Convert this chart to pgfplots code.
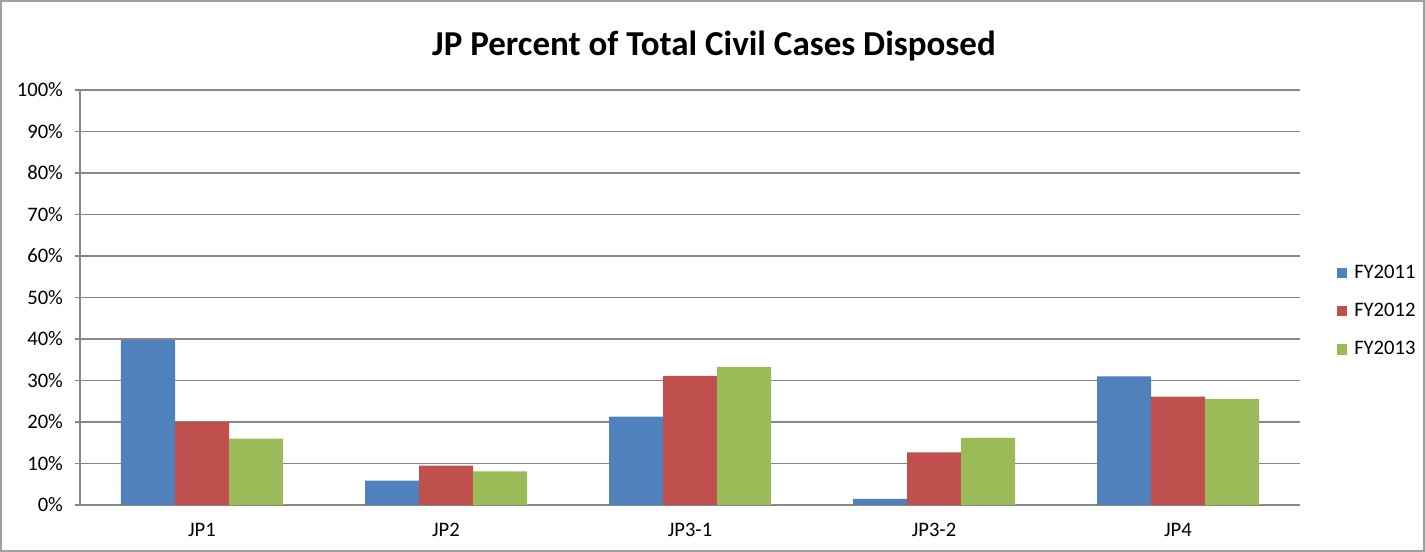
\documentclass[border=0pt]{standalone}
\usepackage{fontspec}
\setmainfont{Carlito}
\usepackage{pgfplots}
\pgfplotsset{compat=1.18}
\definecolor{fyblue}{HTML}{4F81BD}
\definecolor{fyred}{HTML}{C0504D}
\definecolor{fygreen}{HTML}{9BBB59}
\definecolor{gridgray}{HTML}{878787}
\begin{document}
\begin{tikzpicture}
\useasboundingbox (-40bp,-23.5bp) rectangle (672.5bp,252.5bp);
\draw[gridgray!80, line width=0.8bp] (-39.4bp,-22.9bp) rectangle (671.9bp,251.9bp);
\begin{axis}[
  at={(0,0)}, anchor=south west,
  scale only axis, width=610bp, height=207.5bp,
  ybar=0pt, bar width=27bp,
  xmin=-0.5, xmax=4.5, ymin=0, ymax=100,
  xtick={0,1,2,3,4},
  xticklabels={JP1,JP2,JP3-1,JP3-2,JP4},
  minor xtick={-0.5,0.5,1.5,2.5,3.5,4.5},
  ytick={0,10,...,100},
  yticklabel={\pgfmathprintnumber{\tick}\%},
  /pgf/number format/assume math mode=true,
  ticklabel style={font=\fontsize{10.3bp}{12bp}\selectfont},
  yticklabel style={xshift=-2.5bp},
  xticklabel style={yshift=-3bp},
  axis lines=left, axis line style={-, gridgray, line width=0.8bp},
  tick align=outside,
  major tick length=2.5bp, minor tick length=3.5bp,
  xtick style={draw=none},
  minor x tick style={gridgray, line width=0.8bp},
  ytick style={gridgray, line width=0.8bp},
  ymajorgrids, grid style={gridgray, line width=0.8bp},
  legend style={at={(rel axis cs:1.025,0.467)}, anchor=west, draw=none, fill=none,
    font=\fontsize{10.3bp}{12bp}\selectfont, row sep=7bp,
    /tikz/every odd column/.append style={column sep=1.5bp}},
  legend cell align=left,
  legend image code/.code={\fill[#1] (0bp,-2.6bp) rectangle (5.2bp,2.6bp);},
]
\addplot[fill=fyblue, draw=none] coordinates {(0,39.7) (1,5.9) (2,21.3) (3,1.5) (4,31.0)};
\addplot[fill=fyred, draw=none] coordinates {(0,20.0) (1,9.5) (2,31.1) (3,12.7) (4,26.1)};
\addplot[fill=fygreen, draw=none] coordinates {(0,16.0) (1,8.1) (2,33.3) (3,16.2) (4,25.6)};
\legend{FY2011,FY2012,FY2013}
\end{axis}
\node at (317bp,229.5bp) {\fontsize{17.5bp}{20bp}\selectfont\bfseries JP Percent of Total Civil Cases Disposed};
\end{tikzpicture}
\end{document}
